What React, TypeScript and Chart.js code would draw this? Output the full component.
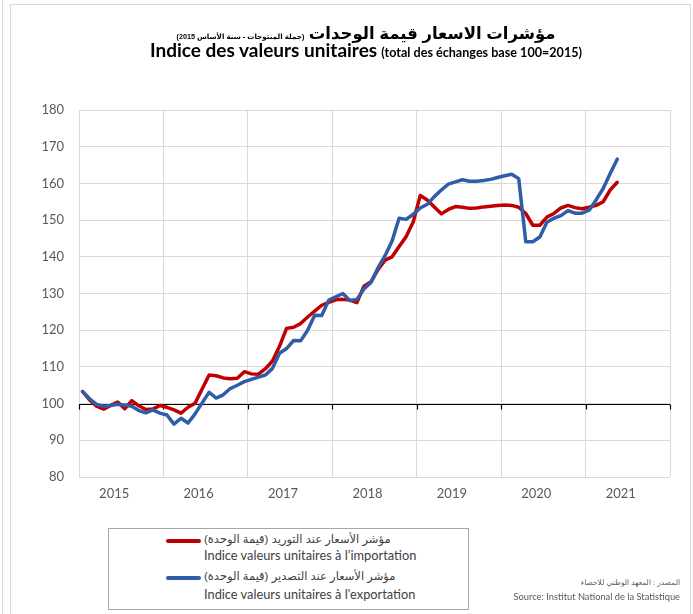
import React, { useEffect, useRef } from "react";
import { Chart, registerables } from "chart.js";

Chart.register(...registerables);

// ---------- data ----------
const years = ["2015", "2016", "2017", "2018", "2019", "2020", "2021"];
const monthsPerYear = 12;

// Monthly unit value index, imports (Jan 2015 .. May 2021)
const importIndex = [
  103.3, 101.0, 99.3, 98.5, 99.5, 100.4, 98.6, 100.8, 99.4, 98.4, 98.5, 99.5,
  99.0, 98.3, 97.4, 99.0, 100.1, 104.0, 107.8, 107.6, 107.0, 106.8, 106.9, 108.7,
  108.1, 108.0, 109.5, 111.6, 115.6, 120.5, 120.8, 121.8, 123.6, 125.2, 126.8, 127.6,
  128.3, 128.4, 128.2, 127.5, 132.0, 133.2, 136.5, 139.1, 140.0, 142.8, 145.5, 149.5,
  156.7, 155.5, 153.6, 151.7, 152.9, 153.7, 153.5, 153.2, 153.3, 153.6, 153.8, 154.0,
  154.1, 154.0, 153.5, 151.8, 148.6, 148.6, 150.8, 151.8, 153.3, 154.0, 153.4, 153.1,
  153.5, 154.0, 155.0, 158.2, 160.3,
];

// Monthly unit value index, exports (Jan 2015 .. May 2021)
const exportIndex = [
  103.3, 101.3, 99.8, 99.3, 99.5, 99.8, 99.6, 99.3, 98.1, 97.5, 98.3, 97.4,
  96.9, 94.4, 96.0, 94.7, 97.2, 100.2, 103.1, 101.5, 102.4, 104.1, 105.0, 106.0,
  106.6, 107.2, 107.8, 109.6, 113.7, 115.0, 117.2, 117.1, 120.0, 124.1, 124.0, 128.2,
  129.1, 130.0, 128.1, 128.4, 131.2, 133.0, 137.0, 140.3, 144.3, 150.5, 150.2, 151.6,
  153.3, 154.3, 156.4, 158.2, 159.8, 160.4, 161.0, 160.6, 160.6, 160.8, 161.1, 161.6,
  162.1, 162.5, 161.3, 144.1, 144.1, 145.4, 149.4, 150.5, 151.2, 152.6, 151.9, 151.9,
  152.7, 155.5, 158.6, 162.7, 166.6,
];

const yMin = 80;
const yMax = 180;
const yStep = 10;
const baseValue = 100;

const titleAr = "مؤشرات الاسعار قيمة الوحدات";
const subtitleAr = "(جملة المنتوجات - سنة الأساس 2015)";
const titleFr = "Indice des valeurs unitaires";
const subtitleFr = "(total des échanges base 100=2015)";
const importLabelAr = "مؤشر الأسعار عند التوريد (قيمة الوحدة)";
const importLabelFr = "Indice valeurs unitaires à l’importation";
const exportLabelAr = "مؤشر الأسعار عند التصدير (قيمة الوحدة)";
const exportLabelFr = "Indice valeurs unitaires à l'exportation";
const sourceAr = "المصدر : المعهد الوطني للاحصاء";
const sourceFr = "Source: Institut National de la Statistique";

const RED = "#C00000";
const BLUE = "#2F5DA8";
const GRID = "#D9D9D9";
const LATIN = "Lato, 'Liberation Sans', 'DejaVu Sans', sans-serif";
const ARABIC = "'Liberation Sans', 'DejaVu Sans', sans-serif";

const baseLinePlugin = {
  id: "baseLine",
  beforeDatasetsDraw(chart: any) {
    const { ctx, chartArea, scales } = chart;
    const xs = scales.x;
    const ys = scales.y;
    const py = Math.round(ys.getPixelForValue(baseValue)) + 0.5;
    ctx.save();
    ctx.strokeStyle = "#000";
    ctx.lineWidth = 1.2;
    ctx.beginPath();
    ctx.moveTo(chartArea.left, py);
    ctx.lineTo(chartArea.right, py);
    for (let k = 0; k <= years.length; k++) {
      const px = Math.round(xs.getPixelForValue(k * monthsPerYear)) + 0.5;
      ctx.moveTo(px, py);
      ctx.lineTo(px, py + 5);
    }
    ctx.stroke();
    ctx.restore();
  },
};

function ChartCanvas() {
  const ref = useRef<HTMLCanvasElement | null>(null);
  useEffect(() => {
    if (!ref.current) return;
    const total = years.length * monthsPerYear;
    const tickValues: number[] = [];
    for (let k = 0; k <= years.length; k++) {
      tickValues.push(k * monthsPerYear);
      if (k < years.length) tickValues.push(k * monthsPerYear + 5);
    }
    const chart = new Chart(ref.current, {
      type: "line",
      data: {
        datasets: [
          {
            label: importLabelFr,
            data: importIndex.map((v, i) => ({ x: i + 0.5, y: v })),
            borderColor: RED,
            backgroundColor: RED,
            borderWidth: 3.5,
            pointRadius: 0,
            tension: 0,
            borderJoinStyle: "round",
            borderCapStyle: "round",
            order: 1,
          },
          {
            label: exportLabelFr,
            data: exportIndex.map((v, i) => ({ x: i + 0.5, y: v })),
            borderColor: BLUE,
            backgroundColor: BLUE,
            borderWidth: 3.5,
            pointRadius: 0,
            tension: 0,
            borderJoinStyle: "round",
            borderCapStyle: "round",
            order: 0,
          },
        ],
      },
      options: {
        animation: false,
        responsive: false,
        layout: { padding: { left: 0, right: 23, top: 110, bottom: 107 } },
        plugins: {
          legend: { display: false },
          tooltip: { enabled: false },
          title: { display: false },
        },
        scales: {
          x: {
            type: "linear",
            min: 0,
            max: total,
            afterBuildTicks: (s: any) => {
              s.ticks = tickValues.map((v) => ({ value: v }));
            },
            afterFit: (s: any) => {
              s.height = 30;
            },
            grid: {
              color: (c: any) =>
                c.tick && c.tick.value % monthsPerYear === 0 ? GRID : "rgba(0,0,0,0)",
              drawTicks: false,
              lineWidth: 1,
            },
            border: { display: false },
            ticks: {
              autoSkip: false,
              maxRotation: 0,
              padding: 9,
              color: "#595959",
              font: { family: LATIN, size: 13 },
              callback: (v: any) => {
                const n = Number(v);
                if (n % monthsPerYear === 5) return years[(n - 5) / monthsPerYear];
                return "";
              },
            },
          },
          y: {
            min: yMin,
            max: yMax,
            afterFit: (s: any) => {
              s.width = 79;
            },
            ticks: {
              stepSize: yStep,
              padding: 15,
              color: "#595959",
              font: { family: LATIN, size: 13 },
            },
            grid: { color: GRID, drawTicks: false, lineWidth: 1 },
            border: { display: true, color: GRID },
          },
        },
      },
      plugins: [baseLinePlugin],
    });
    return () => chart.destroy();
  }, []);
  return (
    <canvas
      ref={ref}
      width={693}
      height={614}
      style={{ position: "absolute", left: 0, top: 0, width: 693, height: 614 }}
    />
  );
}

export default function App() {
  const legendLine = (color: string, top: number) => (
    <div
      style={{
        position: "absolute",
        left: 57,
        top,
        width: 35,
        height: 4,
        borderRadius: 2,
        background: color,
      }}
    />
  );
  const txt = (s: string, top: number, ar: boolean) => (
    <div
      dir={ar ? "rtl" : "ltr"}
      style={{
        position: "absolute",
        left: 95,
        top,
        whiteSpace: "nowrap",
        fontFamily: ar ? ARABIC : LATIN,
        fontSize: ar ? 11.5 : 12.8,
        color: "#404040",
        lineHeight: "14px",
      }}
    >
      {s}
    </div>
  );
  return (
    <div
      style={{
        position: "absolute",
        left: 0,
        top: 0,
        width: 693,
        height: 614,
        overflow: "hidden",
        background: "#fff",
      }}
    >
      <div
        style={{
          position: "absolute",
          left: 2,
          top: 0,
          width: 0,
          height: 614,
          borderLeft: "1px solid #D9D9D9",
        }}
      />
      <div
        style={{
          position: "absolute",
          left: 10,
          top: 4,
          width: 679,
          height: 640,
          border: "1px solid #D9D9D9",
        }}
      />
      <ChartCanvas />
      <div
        dir="rtl"
        style={{
          position: "absolute",
          left: 366,
          top: 21,
          transform: "translateX(-50%)",
          whiteSpace: "nowrap",
          fontFamily: ARABIC,
          color: "#000",
          lineHeight: "24px",
        }}
      >
        <span style={{ fontSize: 16.5, fontWeight: "bold" }}>{titleAr}</span>{" "}
        <span style={{ fontSize: 7.2, fontWeight: "bold" }}>{subtitleAr}</span>
      </div>
      <div
        style={{
          position: "absolute",
          left: 366,
          top: 38,
          transform: "translateX(-50%)",
          whiteSpace: "nowrap",
          fontFamily: LATIN,
          color: "#000",
          lineHeight: "24px",
        }}
      >
        <span style={{ fontSize: 19, fontWeight: "bold" }}>{titleFr}</span>{" "}
        <span style={{ fontSize: 12.6, fontWeight: "bold" }}>{subtitleFr}</span>
      </div>
      <div
        style={{
          position: "absolute",
          left: 108,
          top: 528,
          width: 359,
          height: 80,
          border: "1px solid #A6A6A6",
          background: "#fff",
        }}
      >
        {legendLine(RED, 10)}
        {txt(importLabelAr, 3, true)}
        {txt(importLabelFr, 19, false)}
        {legendLine(BLUE, 47)}
        {txt(exportLabelAr, 40, true)}
        {txt(exportLabelFr, 58, false)}
      </div>
      <div
        style={{
          position: "absolute",
          right: 13,
          top: 576,
          textAlign: "right",
          fontFamily: LATIN,
          fontSize: 9.3,
          color: "#595959",
          lineHeight: "14px",
          whiteSpace: "nowrap",
        }}
      >
        <div dir="rtl" style={{ fontFamily: ARABIC, fontSize: 7.5 }}>{sourceAr}</div>
        <div>{sourceFr}</div>
      </div>
    </div>
  );
}
